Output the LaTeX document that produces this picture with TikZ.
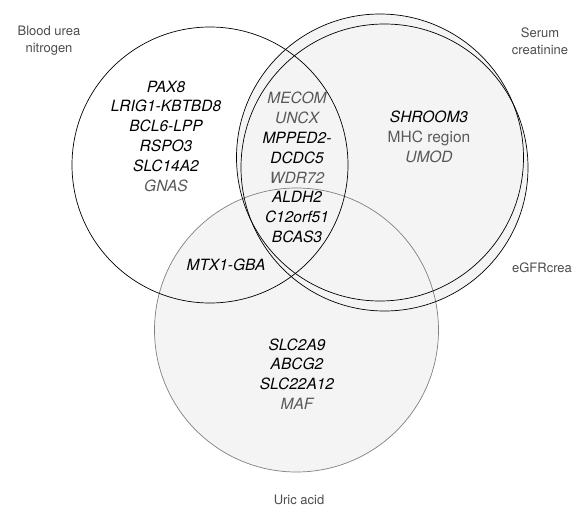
\documentclass[tikz,border=0pt]{standalone}
\usepackage{fontspec}
\setmainfont{TeX Gyre Heros}
\usepackage{xcolor}
\usepackage{tikz}

\definecolor{stipple}{gray}{0.955}
\definecolor{genegray}{gray}{0.35}
\definecolor{labelgray}{gray}{0.3}

\tikzset{
    setfill/.style={fill=stipple},
    setline/.style={draw=black, line width=0.7pt},
    ualine/.style={draw=black!50, line width=0.7pt},
    genes/.style={align=center, font=\fontsize{15.5}{19.8}\selectfont\itshape},
    setlabel/.style={align=center, text=labelgray, font=\fontsize{13}{17}\selectfont}
}

\begin{document}
\begin{tikzpicture}[x=1pt,y=-1pt]
		\useasboundingbox (0,0) rectangle (587,509);

		% set centres
		\coordinate (bunc) at (210,165);
		\coordinate (scrc) at (380,157.5);
		\coordinate (egfrc) at (384.5,167.5);
		\coordinate (uac) at (296.5,330);

		% shaded sets
		\fill[setfill] (scrc) circle[radius=143.5pt];
		\fill[setfill] (egfrc) circle[radius=143.5pt];
		\fill[setfill] (uac) circle[radius=142pt];

		% outlines
		\draw[ualine] (uac) circle[radius=142pt];
		\draw[setline] (bunc) circle[radius=138pt];
		\draw[setline] (scrc) circle[radius=143.5pt];
		\draw[setline] (egfrc) circle[radius=143.5pt];

		% set names
		\node[setlabel] (bunlabel) at (49,41) {Blood urea\\nitrogen};
		\node[setlabel] (scrlabel) at (540,41) {Serum\\creatinine};
		\node[setlabel] (egfrlabel) at (542,268) {eGFRcrea};
		\node[setlabel] (ualabel) at (299,500) {Uric acid};

		% loci
		\node[genes] (bungenes) at (166,136) {PAX8\\LRIG1-KBTBD8\\BCL6-LPP\\RSPO3\\SLC14A2\\\textcolor{genegray}{GNAS}};
		\node[genes] (lensgenes) at (297,167.5) {\textcolor{genegray}{MECOM}\\\textcolor{genegray}{UNCX}\\MPPED2-\\DCDC5\\\textcolor{genegray}{WDR72}\\ALDH2\\C12orf51\\BCAS3};
		\node[genes] (scrgenes) at (429,137) {SHROOM3\\\textcolor{genegray}{\upshape MHC region}\\\textcolor{genegray}{UMOD}};
		\node[genes] (bunuagenes) at (226,265) {MTX1-GBA};
		\node[genes] (uagenes) at (297,374) {SLC2A9\\ABCG2\\SLC22A12\\\textcolor{genegray}{MAF}};
\end{tikzpicture}
\end{document}
